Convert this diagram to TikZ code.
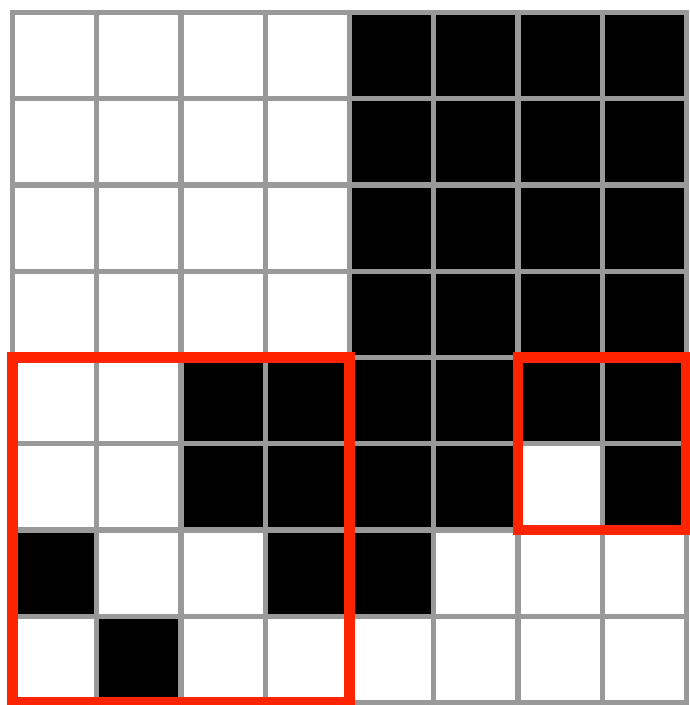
\documentclass[tikz,border=0pt]{standalone}
\definecolor{gridgray}{RGB}{153,153,153}
\definecolor{hired}{RGB}{255,36,0}
\tikzset{
  gridline/.style={draw=gridgray, line width=3.8pt, line cap=rect},
  hilite/.style={draw=hired, line width=8pt, line join=miter},
  blackcell/.style={fill=black}
}
\begin{document}
\begin{tikzpicture}[x=0.75pt,y=-0.75pt]
\useasboundingbox (0,0) rectangle (689,705);
\fill[white] (0,0) rectangle (689,705);
% cell geometry
\def\ox{12.5}\def\oy{12.5}\def\cw{84.25}\def\ch{86.25}
% black cells: list of col/row
\foreach \c/\r in {4/0,5/0,6/0,7/0, 4/1,5/1,6/1,7/1, 4/2,5/2,6/2,7/2, 4/3,5/3,6/3,7/3,
  2/4,3/4,4/4,5/4,6/4,7/4, 2/5,3/5,4/5,5/5,7/5, 0/6,3/6,4/6, 1/7}{
  \fill[blackcell] ({\ox+\c*\cw},{\oy+\r*\ch}) rectangle ({\ox+(\c+1)*\cw},{\oy+(\r+1)*\ch});
}
% grid lines
\foreach \i in {0,...,8}{
  \draw[gridline] ({\ox+\i*\cw},{\oy}) -- ({\ox+\i*\cw},{\oy+8*\ch});
  \draw[gridline] ({\ox},{\oy+\i*\ch}) -- ({\ox+8*\cw},{\oy+\i*\ch});
}
% highlight rectangles
\draw[hilite] ({\ox},{\oy+4*\ch}) rectangle ({\ox+4*\cw},{\oy+8*\ch});
\draw[hilite] ({\ox+6*\cw},{\oy+4*\ch}) rectangle ({\ox+8*\cw},{\oy+6*\ch});
\end{tikzpicture}
\end{document}
